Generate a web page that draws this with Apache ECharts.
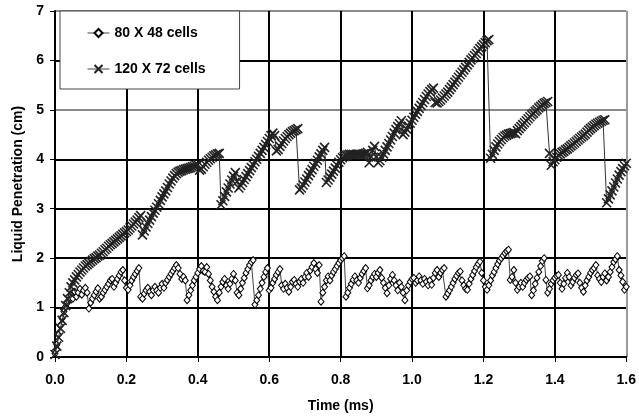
<!DOCTYPE html>
<html><head><meta charset="utf-8">
<script src="https://cdn.jsdelivr.net/npm/echarts@6/dist/echarts.min.js"></script>
<style>html,body{margin:0;padding:0;background:#fff}#c{width:639px;height:418px}</style>
</head><body><div id="c"></div>
<script>
// time step between samples (ms)
const timeStep = 0.005;
const xTicks = ['0.0','0.2','0.4','0.6','0.8','1.0','1.2','1.4','1.6'];
const yTicks = ['0','1','2','3','4','5','6','7'];
const seriesNames = ['80 X 48 cells', '120 X 72 cells'];

// 80 X 48 cells (diamonds), sampled every 0.005 ms from 0 to 1.6
const pen80 = [
0.07,0.25,0.45,0.63,0.78,0.92,1.02,1.10,1.17,1.24,
1.18,1.32,1.22,1.30,1.38,1.26,1.35,1.40,1.30,0.98,
1.10,1.18,1.25,1.32,1.39,1.18,1.22,1.30,1.36,1.42,
1.48,1.55,1.58,1.42,1.50,1.58,1.65,1.72,1.76,1.55,
1.40,1.36,1.45,1.55,1.62,1.68,1.74,1.80,1.22,1.18,
1.28,1.35,1.40,1.32,1.25,1.35,1.42,1.35,1.30,1.40,
1.48,1.40,1.50,1.56,1.62,1.68,1.74,1.80,1.86,1.80,
1.68,1.58,1.62,1.55,1.15,1.25,1.35,1.45,1.55,1.62,
1.70,1.78,1.84,1.74,1.72,1.82,1.68,1.55,1.42,1.32,
1.22,1.15,1.30,1.42,1.52,1.58,1.45,1.38,1.48,1.58,
1.68,1.55,1.30,1.25,1.38,1.50,1.60,1.70,1.78,1.86,
1.92,1.96,1.06,1.15,1.25,1.38,1.50,1.62,1.72,1.80,
1.35,1.40,1.50,1.58,1.66,1.72,1.78,1.45,1.38,1.48,
1.40,1.32,1.42,1.52,1.56,1.48,1.42,1.52,1.58,1.50,
1.62,1.70,1.62,1.75,1.82,1.90,1.78,1.70,1.86,1.12,
1.30,1.42,1.55,1.63,1.55,1.65,1.72,1.78,1.84,1.90,
1.96,2.00,2.04,1.22,1.30,1.40,1.48,1.56,1.63,1.55,
1.50,1.60,1.68,1.74,1.80,1.39,1.45,1.55,1.62,1.68,
1.62,1.70,1.76,1.60,1.50,1.40,1.29,1.45,1.58,1.66,
1.55,1.45,1.35,1.50,1.42,1.30,1.15,1.35,1.45,1.52,
1.58,1.60,1.50,1.55,1.63,1.55,1.48,1.58,1.52,1.45,
1.55,1.46,1.60,1.70,1.76,1.62,1.70,1.76,1.80,1.22,
1.28,1.35,1.42,1.50,1.58,1.64,1.70,1.73,1.55,1.45,
1.38,1.36,1.48,1.58,1.66,1.74,1.82,1.88,1.93,1.70,
1.55,1.42,1.36,1.45,1.55,1.65,1.72,1.80,1.88,1.95,
2.00,2.05,2.10,2.14,2.17,1.56,1.62,1.76,1.50,1.36,
1.42,1.50,1.42,1.50,1.56,1.60,1.63,1.25,1.35,1.48,
1.60,1.72,1.84,1.94,2.00,1.56,1.30,1.38,1.48,1.55,
1.60,1.64,1.66,1.50,1.38,1.48,1.60,1.70,1.62,1.45,
1.52,1.60,1.66,1.69,1.50,1.40,1.32,1.45,1.55,1.62,
1.70,1.76,1.80,1.86,1.65,1.58,1.52,1.62,1.69,1.55,
1.62,1.72,1.82,1.92,1.98,2.04,1.76,1.65,1.52,1.36,
1.42];

// 120 X 72 cells (crosses), sampled every 0.005 ms from 0 to 1.6
const pen120 = [
0.05,0.22,0.40,0.58,0.74,0.90,1.04,1.18,1.30,1.42,
1.50,1.56,1.62,1.67,1.72,1.76,1.80,1.84,1.87,1.90,
1.93,1.96,1.99,2.01,2.04,2.06,2.10,2.13,2.17,2.20,
2.24,2.27,2.30,2.33,2.36,2.39,2.42,2.45,2.48,2.51,
2.54,2.57,2.61,2.65,2.69,2.73,2.77,2.82,2.86,2.47,
2.55,2.63,2.70,2.77,2.84,2.91,2.97,3.03,3.10,3.17,
3.24,3.30,3.36,3.43,3.50,3.56,3.62,3.67,3.71,3.74,
3.76,3.77,3.79,3.80,3.81,3.82,3.83,3.85,3.86,3.88,
3.89,3.78,3.80,3.85,3.90,3.94,3.98,4.01,4.04,4.07,
4.09,4.11,4.12,3.08,3.16,3.25,3.34,3.42,3.50,3.58,
3.66,3.73,3.55,3.42,3.47,3.53,3.59,3.65,3.71,3.77,
3.83,3.89,3.95,4.00,4.06,4.12,4.18,4.24,4.30,4.36,
4.42,4.48,4.53,4.48,4.17,4.20,4.26,4.32,4.37,4.42,
4.46,4.50,4.53,4.56,4.58,4.60,4.62,3.38,3.42,3.48,
3.54,3.60,3.67,3.73,3.79,3.86,3.92,3.98,4.05,4.11,
4.18,4.24,3.53,3.58,3.64,3.70,3.76,3.82,3.88,3.94,
3.99,4.03,4.06,4.08,4.09,4.10,4.10,4.10,4.09,4.10,
4.10,4.09,4.10,4.11,4.12,4.14,3.93,4.05,4.18,4.26,
4.05,3.93,3.97,4.04,4.11,4.18,4.25,4.32,4.39,4.46,
4.53,4.60,4.66,4.72,4.78,4.50,4.55,4.61,4.67,4.73,
4.79,4.85,4.91,4.97,5.03,5.09,5.15,5.21,5.27,5.32,
5.37,5.41,5.44,5.15,5.14,5.17,5.20,5.24,5.28,5.32,
5.36,5.41,5.46,5.51,5.56,5.61,5.66,5.71,5.76,5.81,
5.86,5.91,5.96,6.01,6.05,6.10,6.14,6.19,6.24,6.28,
6.32,6.36,6.40,6.42,4.02,4.10,4.18,4.25,4.31,4.36,
4.40,4.44,4.47,4.49,4.51,4.52,4.53,4.54,4.52,4.58,
4.62,4.66,4.70,4.74,4.78,4.82,4.86,4.90,4.93,4.97,
5.00,5.04,5.07,5.10,5.13,5.15,5.17,4.12,3.88,3.95,
3.99,4.04,4.08,4.11,4.14,4.16,4.19,4.21,4.24,4.27,
4.30,4.33,4.36,4.39,4.42,4.45,4.48,4.51,4.55,4.59,
4.62,4.65,4.68,4.71,4.73,4.75,4.77,4.79,4.80,3.12,
3.20,3.28,3.36,3.44,3.52,3.60,3.68,3.75,3.81,3.87,
3.92];

const toPairs = arr => arr.map((v, i) => [+(i * timeStep).toFixed(3), v]);
const FONT = '"Liberation Sans", Arial, sans-serif';
const chart = echarts.init(document.getElementById('c'), null, {renderer: 'canvas'});
const xColors = xTicks.map((t, i) => i === xTicks.length - 1 ? '#9a9a9a' : '#000');
const yColors = yTicks.map((t, i) => (i === 5 || i === 7) ? '#8a8a8a' : '#000');
chart.setOption({
  animation: false,
  backgroundColor: '#fff',
  grid: {left: 55, right: 11, top: 11, bottom: 61, containLabel: false},
  legend: {
    left: 60, top: 11, orient: 'vertical',
    data: seriesNames,
    backgroundColor: '#fff', borderColor: '#444', borderWidth: 1,
    padding: [15, 34, 13, 27], itemGap: 22, itemWidth: 22, itemHeight: 10,
    lineStyle: {width: 1, color: '#444'},
    textStyle: {fontFamily: FONT, fontWeight: 'bold', fontSize: 14, color: '#000'}
  },
  xAxis: {
    type: 'value', min: 0, max: 1.6, interval: 0.2,
    name: 'Time (ms)', nameLocation: 'middle', nameGap: 42,
    nameTextStyle: {fontFamily: FONT, fontWeight: 'bold', fontSize: 14, color: '#000'},
    axisLine: {show: true, lineStyle: {color: '#000', width: 2}},
    axisTick: {show: true, inside: false, length: 5, lineStyle: {color: '#000', width: 1}},
    axisLabel: {margin: 16, fontFamily: FONT, fontWeight: 'bold', fontSize: 14, color: '#000',
      formatter: v => xTicks[Math.round(v / 0.2)]},
    splitLine: {show: true, lineStyle: {color: xColors, width: 2}}
  },
  yAxis: {
    type: 'value', min: 0, max: 7, interval: 1,
    name: 'Liquid Penetration (cm)', nameLocation: 'middle', nameGap: 29, nameRotate: 90,
    nameTextStyle: {fontFamily: FONT, fontWeight: 'bold', fontSize: 14, color: '#000'},
    axisLine: {show: true, lineStyle: {color: '#000', width: 2}},
    axisTick: {show: true, inside: false, length: 5, lineStyle: {color: '#000', width: 1}},
    axisLabel: {margin: 11, fontFamily: FONT, fontWeight: 'bold', fontSize: 14, color: '#000',
      formatter: v => yTicks[Math.round(v)]},
    splitLine: {show: true, lineStyle: {color: yColors, width: 2}}
  },
  series: [
    {
      name: seriesNames[0], type: 'line', data: toPairs(pen80),
      symbol: 'diamond', symbolSize: [6, 7], showAllSymbol: true,
      lineStyle: {color: '#444', width: 1},
      itemStyle: {color: '#fff', borderColor: '#000', borderWidth: 1},
      z: 3
    },
    {
      name: seriesNames[1], type: 'line', data: toPairs(pen120),
      symbol: 'path://M0,0L10,10M10,0L0,10', symbolSize: 9, showAllSymbol: true,
      lineStyle: {color: '#333', width: 1},
      itemStyle: {color: '#222', borderColor: '#222', borderWidth: 1.6},
      z: 4
    }
  ]
});
</script></body></html>
